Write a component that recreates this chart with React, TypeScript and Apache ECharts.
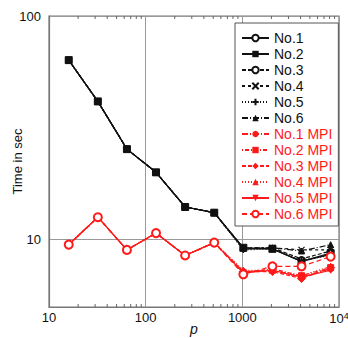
import React, { useEffect, useRef } from "react";
import * as echarts from "echarts";

const procs = [16, 32, 64, 128, 256, 512, 1024, 2048, 4096, 8192];

const no1 = [63.5, 41.5, 25.4, 20.0, 14.0, 13.2, 9.1, 9.1, 8.0, 8.6];
const no2 = [63.5, 41.5, 25.4, 20.0, 14.0, 13.2, 9.2, 9.1, 8.0, 8.7];
const no3 = [63.5, 41.5, 25.4, 20.0, 14.0, 13.2, 9.1, 9.2, 8.2, 8.9];
const no4 = [63.5, 41.5, 25.4, 20.0, 14.0, 13.2, 9.2, 9.2, 9.0, 9.0];
const no5 = [63.5, 41.5, 25.4, 20.0, 14.0, 13.2, 9.0, 9.1, 8.1, 8.5];
const no6 = [63.5, 41.5, 25.4, 20.0, 14.0, 13.2, 9.2, 9.2, 8.9, 9.5];

const mpi1 = [9.5, 12.6, 9.0, 10.7, 8.5, 9.7, 7.2, 7.3, 6.8, 7.4];
const mpi2 = [9.5, 12.6, 9.0, 10.7, 8.5, 9.7, 7.1, 7.4, 6.9, 7.5];
const mpi3 = [9.5, 12.6, 9.0, 10.7, 8.5, 9.7, 7.2, 7.2, 6.7, 7.5];
const mpi4 = [9.5, 12.6, 9.0, 10.7, 8.5, 9.7, 7.3, 7.3, 6.9, 7.6];
const mpi5 = [9.5, 12.6, 9.0, 10.7, 8.5, 9.7, 7.1, 7.3, 6.8, 7.3];
const mpi6 = [9.5, 12.6, 9.0, 10.7, 8.5, 9.7, 7.0, 7.6, 7.6, 8.4];

const minorTicks = [20, 30, 40, 50, 60, 70, 80, 90, 200, 300, 400, 500, 600, 700, 800, 900, 2000, 3000, 4000, 5000, 6000, 7000, 8000, 9000];

const RED = "#ff1a1a";
const FONT = "Liberation Sans, Arial, sans-serif";

function mk(name: string, data: number[], color: string, dash: any, symbol: string, size: number) {
  return {
    name,
    type: "line",
    data: procs.map((p, i) => [p, data[i]]),
    symbol,
    symbolSize: size,
    lineStyle: { color, width: 1.2, type: dash },
    itemStyle: { color, borderColor: color },
    z: 3,
  };
}

function mkStroke(name: string, data: number[], color: string, dash: any, symbol: string, size: number) {
  return {
    name,
    type: "line",
    data: procs.map((p, i) => [p, data[i]]),
    symbol,
    symbolSize: size,
    lineStyle: { color, width: 1.2, type: dash },
    itemStyle: { color: "none", borderColor: color, borderWidth: 1.2 },
    z: 3,
  };
}

export default function App() {
  const ref = useRef<HTMLDivElement>(null);
  useEffect(() => {
    const chart = echarts.init(ref.current!, null, { renderer: "svg" });
    const blackNames = ["No.1", "No.2", "No.3", "No.4", "No.5", "No.6"];
    const redNames = ["No.1 MPI", "No.2 MPI", "No.3 MPI", "No.4 MPI", "No.5 MPI", "No.6 MPI"];
    const option: any = {
      animation: false,
      grid: { left: 49, top: 16, right: 9, bottom: 31, containLabel: false, outerBoundsMode: "none" },
      legend: {
        orient: "vertical",
        left: 235,
        top: 23,
        backgroundColor: "#fff",
        borderColor: "#555",
        borderWidth: 1,
        borderRadius: 0,
        padding: [8, 6, 5, 6],
        itemWidth: 27,
        itemHeight: 8,
        itemGap: 2,
        textStyle: { fontSize: 14, fontFamily: FONT, color: "#111" },
        data: [
          ...blackNames.map((n) => ({ name: n, textStyle: { color: "#111" } })),
          ...redNames.map((n) => ({ name: n, textStyle: { color: RED } })),
        ],
      },
      xAxis: {
        type: "log",
        min: 10,
        max: 10000,
        logBase: 10,
        name: "p",
        nameLocation: "middle",
        nameGap: 22,
        nameMoveOverlap: false,
        nameTextStyle: { fontSize: 14, fontStyle: "italic", fontFamily: FONT, color: "#111", verticalAlign: "middle", lineHeight: 14 },
        axisLine: { show: true, lineStyle: { color: "#777", width: 1.2 } },
        axisTick: { show: false },
        axisLabel: {
          fontSize: 13,
          fontFamily: FONT,
          color: "#111",
          margin: 4,
          formatter: (v: number) => {
            if (Math.abs(v - 10000) < 1) return "10{s|4}";
            return String(Math.round(v));
          },
          rich: { s: { fontSize: 9, verticalAlign: "top", padding: [0, 0, 6, 0], fontFamily: FONT, color: "#111" } },
        },
        splitLine: { show: true, lineStyle: { color: "#999", width: 1 } },
      },
      yAxis: {
        type: "log",
        min: 5,
        max: 100,
        logBase: 10,
        name: "Time in sec",
        nameLocation: "middle",
        nameGap: 25,
        nameMoveOverlap: false,
        nameTextStyle: { fontSize: 13, fontFamily: FONT, color: "#111" },
        axisLine: { show: true, lineStyle: { color: "#777", width: 1.2 } },
        axisTick: { show: false },
        axisLabel: {
          fontSize: 13,
          fontFamily: FONT,
          color: "#111",
          margin: 8,
          formatter: (v: number) => {
            const r = Math.round(v);
            return r === 10 || r === 100 ? String(r) : "";
          },
        },
        splitLine: { show: true, lineStyle: { color: "#999", width: 1 } },
      },
      graphic: [
        {
          type: "rect",
          shape: { x: 49, y: 16, width: 290, height: 291 },
          style: { fill: "none", stroke: "#777", lineWidth: 1.2 },
          silent: true,
          z: 0,
        },
      ],
      series: [
        {
          name: "minorTicks",
          type: "custom",
          data: minorTicks.map((t) => [t, 10]),
          silent: true,
          z: 1,
          renderItem: (params: any, api: any) => {
            const x = api.coord([api.value(0), 10])[0];
            const cs = params.coordSys;
            const b = cs.y + cs.height;
            return {
              type: "group",
              children: [
                { type: "line", shape: { x1: x, y1: b, x2: x, y2: b - 3 }, style: { stroke: "#666", lineWidth: 1 } },
                { type: "line", shape: { x1: x, y1: cs.y, x2: x, y2: cs.y + 3 }, style: { stroke: "#666", lineWidth: 1 } },
              ],
            };
          },
        },
        mk("No.1", no1, "#111", "solid", "emptyCircle", 5),
        mk("No.2", no2, "#111", "solid", "rect", 7),
        mk("No.3", no3, "#111", [4, 2], "emptyCircle", 4),
        mkStroke("No.4", no4, "#111", [3, 3], "path://M0,0L10,10M10,0L0,10", 6),
        mkStroke("No.5", no5, "#111", [1, 2], "path://M5,0L5,10M0,5L10,5", 6),
        mk("No.6", no6, "#111", [6, 2, 1, 2], "triangle", 6),
        mk("No.1 MPI", mpi1, RED, [6, 2, 1, 2], "circle", 6),
        mk("No.2 MPI", mpi2, RED, [1, 2, 4, 2], "rect", 6),
        mk("No.3 MPI", mpi3, RED, [4, 2], "diamond", 8),
        mk("No.4 MPI", mpi4, RED, [1, 2], "triangle", 6),
        mk("No.5 MPI", mpi5, RED, "solid", "path://M0,0L10,0L5,9Z", 6),
        mk("No.6 MPI", mpi6, RED, [5, 3], "emptyCircle", 8),
      ],
    };
    chart.setOption(option);
    return () => chart.dispose();
  }, []);
  return <div ref={ref} style={{ position: "absolute", left: 0, top: 0, width: 348, height: 338 }} />;
}
